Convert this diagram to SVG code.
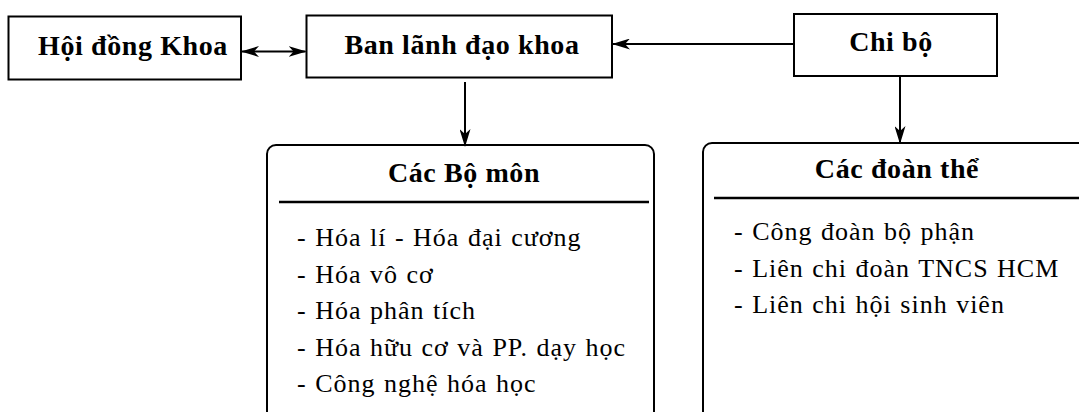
<svg xmlns="http://www.w3.org/2000/svg" width="1079" height="412" viewBox="0 0 1079 412">
<defs>
<style>
.box{fill:#fff;stroke:#000;stroke-width:2}
.sep{stroke:#000;stroke-width:2.5}
.ttl{font-family:"Liberation Serif","Times New Roman",serif;font-weight:bold;font-size:28px;letter-spacing:0.6px;fill:#000;text-anchor:middle}
.itm{font-family:"Liberation Serif","Times New Roman",serif;font-size:26px;letter-spacing:1px;word-spacing:1px;fill:#000}
.con{stroke:#000;stroke-width:2;fill:none}
</style>
<marker id="ah" viewBox="0 0 18 11" refX="17" refY="5.5" markerWidth="18" markerHeight="11" markerUnits="userSpaceOnUse" orient="auto-start-reverse">
<path d="M0,0 L18,5.5 L0,11 L5,5.5 z" fill="#000"/>
</marker>
</defs>
<rect width="1079" height="412" fill="#fff"/>
<g id="hoi-dong-khoa">
<rect class="box" x="8.5" y="16.5" width="232.5" height="63"/>
<text class="ttl" x="133" y="55">Hội đồng Khoa</text>
</g>
<g id="ban-lanh-dao">
<rect class="box" x="306.5" y="15.5" width="305.5" height="62"/>
<text class="ttl" x="462" y="54">Ban lãnh đạo khoa</text>
</g>
<g id="chi-bo">
<rect class="box" x="794" y="14" width="203" height="62"/>
<text class="ttl" x="891" y="51">Chi bộ</text>
</g>
<g id="cac-bo-mon">
<rect class="box" x="267" y="145" width="387" height="290" rx="9"/>
<line class="sep" x1="279" y1="202" x2="649" y2="202"/>
<text class="ttl" x="464" y="182">Các Bộ môn</text>
<text class="itm" x="297" y="246">- Hóa lí - Hóa đại cương</text>
<text class="itm" x="297" y="283">- Hóa vô cơ</text>
<text class="itm" x="297" y="319">- Hóa phân tích</text>
<text class="itm" x="297" y="356">- Hóa hữu cơ và PP. dạy học</text>
<text class="itm" x="297" y="392">- Công nghệ hóa học</text>
</g>
<g id="cac-doan-the">
<rect class="box" x="703" y="143" width="420" height="290" rx="9"/>
<line class="sep" x1="714" y1="198" x2="1079" y2="198"/>
<text class="ttl" x="897" y="178">Các đoàn thể</text>
<text class="itm" x="734" y="240">- Công đoàn bộ phận</text>
<text class="itm" x="734" y="277">- Liên chi đoàn TNCS HCM</text>
<text class="itm" x="734" y="313">- Liên chi hội sinh viên</text>
</g>
<g id="connectors">
<line class="con" x1="242" y1="51.5" x2="305.5" y2="51.5" marker-start="url(#ah)" marker-end="url(#ah)"/>
<line class="con" x1="794" y1="44" x2="613" y2="44" marker-end="url(#ah)"/>
<line class="con" x1="465" y1="82" x2="465" y2="146" marker-end="url(#ah)"/>
<line class="con" x1="900" y1="76" x2="900" y2="143" marker-end="url(#ah)"/>
</g>
</svg>
